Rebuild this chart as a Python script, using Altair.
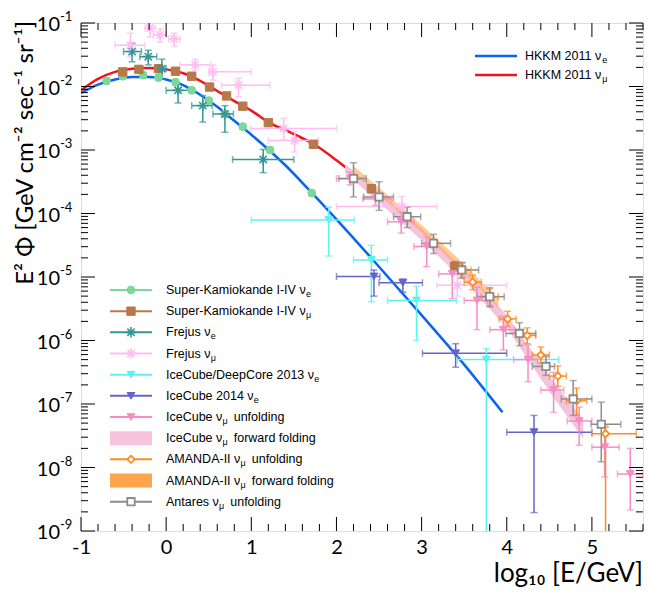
import altair as alt
import pandas as pd

# ---------------- data ----------------
# HKKM 2011 model curves (E^2 flux, GeV cm^-2 s^-1 sr^-1)
hkkm_mu_x = [-1.0, -0.8, -0.6, -0.4, -0.2, 0.0, 0.2, 0.4, 0.6, 0.8, 1.0, 1.2, 1.5, 1.75, 2.0, 2.4, 2.8, 3.2, 3.6, 4.0]
hkkm_mu_y = [8.7e-3, 1.32e-2, 1.70e-2, 1.91e-2, 1.95e-2, 1.86e-2, 1.62e-2, 1.23e-2, 8.5e-3, 5.9e-3, 4.17e-3,
             2.75e-3, 1.78e-3, 1.20e-3, 6.9e-4, 2.51e-4, 8.3e-5, 2.63e-5, 7.8e-6, 2.09e-6]
hkkm_e_x = [-1.0, -0.8, -0.6, -0.4, -0.2, 0.0, 0.2, 0.4, 0.6, 0.8, 1.0, 1.2, 1.4, 1.7, 2.0, 2.5, 3.0, 3.5, 3.95]
hkkm_e_y = [7.9e-3, 1.07e-2, 1.29e-2, 1.41e-2, 1.41e-2, 1.29e-2, 1.05e-2, 7.4e-3, 4.8e-3, 2.88e-3, 1.74e-3,
            1.02e-3, 5.75e-4, 2.19e-4, 8.1e-5, 1.45e-5, 2.51e-6, 4.17e-7, 7.4e-8]

# Super-Kamiokande I-IV nu_e
sk_e_x = [-0.70, -0.51, -0.27, -0.09, 0.11, 0.30, 0.50, 0.69, 0.90, 1.22, 1.71]
sk_e_y = [1.23e-2, 1.45e-2, 1.51e-2, 1.38e-2, 1.17e-2, 8.7e-3, 6.0e-3, 3.7e-3, 2.34e-3, 1.00e-3, 2.1e-4]
sk_e_lo = [1.10e-2, 1.30e-2, 1.36e-2, 1.24e-2, 1.05e-2, 7.8e-3, 5.4e-3, 3.3e-3, 2.10e-3, 0.90e-3, 1.88e-4]
sk_e_hi = [1.37e-2, 1.61e-2, 1.67e-2, 1.53e-2, 1.30e-2, 9.7e-3, 6.7e-3, 4.1e-3, 2.60e-3, 1.11e-3, 2.33e-4]

# Super-Kamiokande I-IV nu_mu
sk_mu_x = [-0.51, -0.32, -0.09, 0.11, 0.30, 0.51, 0.71, 0.90, 1.20, 1.73, 2.41, 3.39]
sk_mu_y = [1.70e-2, 1.86e-2, 1.91e-2, 1.74e-2, 1.45e-2, 9.8e-3, 7.1e-3, 4.9e-3, 2.7e-3, 1.23e-3, 2.45e-4, 1.48e-5]
sk_mu_lo = [1.52e-2, 1.67e-2, 1.71e-2, 1.56e-2, 1.30e-2, 8.8e-3, 6.3e-3, 4.4e-3, 2.4e-3, 1.10e-3, 2.15e-4, 1.25e-5]
sk_mu_hi = [1.89e-2, 2.07e-2, 2.12e-2, 1.94e-2, 1.61e-2, 1.09e-2, 7.9e-3, 5.5e-3, 3.0e-3, 1.37e-3, 2.80e-4, 1.75e-5]

# Frejus nu_e
fr_e_x = [-0.40, -0.21, -0.05, 0.14, 0.43, 0.69, 1.14]
fr_e_xlo = [-0.50, -0.31, -0.10, 0.00, 0.30, 0.55, 0.78]
fr_e_xhi = [-0.29, -0.11, 0.00, 0.28, 0.54, 0.79, 1.50]
fr_e_y = [3.55e-2, 2.95e-2, 1.91e-2, 8.7e-3, 5.0e-3, 3.7e-3, 7.1e-4]
fr_e_lo = [2.45e-2, 2.19e-2, 1.32e-2, 5.5e-3, 2.75e-3, 1.9e-3, 4.4e-4]
fr_e_hi = [4.79e-2, 3.72e-2, 2.69e-2, 1.12e-2, 7.2e-3, 5.0e-3, 1.02e-3]

# Frejus nu_mu
fr_mu_x = [-0.42, -0.19, -0.07, 0.094, 0.34, 0.55, 0.85, 1.38, 1.51, 2.77, 3.42]
fr_mu_xlo = [-0.60, -0.25, -0.15, 0.03, 0.16, 0.50, 0.65, 0.99, 1.20, 2.00, 3.18]
fr_mu_xhi = [-0.25, -0.13, 0.00, 0.165, 0.52, 1.00, 1.22, 2.00, 1.79, 3.18, 4.00]
fr_mu_y = [4.47e-2, 8.32e-2, 6.46e-2, 5.62e-2, 2.19e-2, 1.70e-2, 1.05e-2, 2.19e-3, 1.41e-3, 1.29e-4, 7.4e-6]
fr_mu_lo = [2.95e-2, 6.03e-2, 5.01e-2, 4.27e-2, 1.78e-2, 1.26e-2, 6.9e-3, 1.45e-3, 9.3e-4, 8.3e-5, 5.0e-6]
fr_mu_hi = [6.92e-2, 1.02e-1, 8.13e-2, 6.92e-2, 2.69e-2, 2.19e-2, 1.35e-2, 3.16e-3, 1.95e-3, 1.86e-4, 1.05e-5]

# IceCube/DeepCore 2013 nu_e (last point: lower error down to zero)
dc_x = [1.91, 2.41, 2.94, 3.76]
dc_xlo = [1.00, 2.20, 2.60, 3.42]
dc_xhi = [2.21, 2.60, 3.41, 4.61]
dc_y = [7.9e-5, 1.86e-5, 4.27e-6, 5.0e-7]
dc_lo = [2.14e-5, 4.07e-6, 1.0e-6, 1e-12]
dc_hi = [1.26e-4, 3.16e-5, 7.1e-6, 7.4e-7]

# IceCube 2014 nu_e
ic14_x = [2.44, 2.78, 3.40, 4.32]
ic14_xlo = [2.00, 2.50, 3.01, 4.00]
ic14_xhi = [2.51, 3.01, 4.00, 5.00]
ic14_y = [1.02e-5, 8.1e-6, 6.3e-7, 3.6e-8]
ic14_lo = [5.0e-6, 5.75e-6, 3.8e-7, 1.95e-9]
ic14_hi = [1.29e-5, 9.3e-6, 8.9e-7, 6.6e-8]

# IceCube nu_mu unfolding
icu_x = [2.16, 2.46, 2.76, 3.06, 3.36, 3.65, 3.96, 4.25, 4.55, 4.85, 5.15, 5.45]
icu_xlo = [2.00, 2.31, 2.60, 2.91, 3.20, 3.50, 3.80, 4.08, 4.40, 4.71, 5.00, 5.30]
icu_xhi = [2.32, 2.65, 2.91, 3.18, 3.46, 3.77, 4.09, 4.36, 4.67, 5.00, 5.32, 5.60]
icu_y = [3.55e-4, 1.70e-4, 7.4e-5, 3.02e-5, 1.12e-5, 4.27e-6, 1.48e-6, 5.0e-7, 1.66e-7, 5.4e-8, 2.09e-8, 7.9e-9]
icu_lo = [2.82e-4, 1.35e-4, 4.9e-5, 1.45e-5, 4.57e-6, 1.48e-6, 7.1e-7, 2.24e-7, 7.4e-8, 2.24e-8, 7.1e-9, 2.14e-9]
icu_hi = [4.47e-4, 2.09e-4, 1.05e-4, 4.27e-5, 1.45e-5, 6.9e-6, 2.4e-6, 8.5e-7, 3.16e-7, 8.9e-8, 4.57e-8, 2.0e-8]

# IceCube nu_mu forward folding band
icff_x = [2.1, 2.5, 3.0, 3.5, 4.0, 4.5, 4.9]
icff_lo = [4.37e-4, 1.51e-4, 3.8e-5, 8.7e-6, 1.58e-6, 1.58e-7, 2.82e-8]
icff_hi = [6.0e-4, 2.19e-4, 5.75e-5, 1.32e-5, 2.51e-6, 2.82e-7, 5.6e-8]

# AMANDA-II nu_mu unfolding (last point: lower error down to zero)
am_x = [3.48, 3.60, 3.80, 4.01, 4.24, 4.40, 4.60, 4.82, 5.16]
am_xlo = [3.38, 3.50, 3.70, 3.91, 4.14, 4.30, 4.50, 4.70, 5.00]
am_xhi = [3.58, 3.70, 3.90, 4.11, 4.34, 4.50, 4.70, 4.94, 5.52]
am_y = [1.29e-5, 8.3e-6, 4.9e-6, 2.19e-6, 1.20e-6, 5.9e-7, 2.75e-7, 1.12e-7, 3.4e-8]
am_lo = [1.0e-5, 6.3e-6, 3.55e-6, 1.66e-6, 8.9e-7, 4.4e-7, 1.9e-7, 6.6e-8, 1e-12]
am_hi = [1.66e-5, 1.07e-5, 6.5e-6, 2.88e-6, 1.58e-6, 7.9e-7, 3.98e-7, 1.78e-7, 4.3e-8]

# AMANDA-II nu_mu forward folding band
amff_x = [2.2, 2.6, 3.0, 3.4, 3.9]
amff_lo = [4.37e-4, 1.51e-4, 5.01e-5, 1.58e-5, 3.31e-6]
amff_hi = [5.62e-4, 1.95e-4, 6.61e-5, 2.14e-5, 4.57e-6]

# Antares nu_mu unfolding
an_x = [2.20, 2.50, 2.83, 3.14, 3.47, 3.80, 4.15, 4.46, 4.78, 5.11]
an_xlo = [2.03, 2.32, 2.67, 3.00, 3.36, 3.65, 3.99, 4.30, 4.64, 4.99]
an_xhi = [2.35, 2.67, 2.99, 3.34, 3.67, 3.97, 4.34, 4.56, 5.00, 5.34]
an_y = [3.55e-4, 1.82e-4, 8.9e-5, 3.39e-5, 1.29e-5, 4.9e-6, 1.29e-6, 3.9e-7, 1.20e-7, 4.8e-8]
an_lo = [1.82e-4, 1.12e-4, 6.0e-5, 2.34e-5, 9.5e-6, 3.39e-6, 8.3e-7, 2.82e-7, 6.6e-8, 1.23e-8]
an_hi = [6.3e-4, 3.16e-4, 1.26e-4, 4.7e-5, 1.70e-5, 6.8e-6, 1.91e-6, 5.6e-7, 2.34e-7, 1.07e-7]

x_tick_labels = [-1, 0, 1, 2, 3, 4, 5]
y_decades = [1e-1, 1e-2, 1e-3, 1e-4, 1e-5, 1e-6, 1e-7, 1e-8, 1e-9]
y_exponents = ["-1", "-2", "-3", "-4", "-5", "-6", "-7", "-8", "-9"]

# ---------------- styles / layout ----------------
FONT = "Lato"
LFONT = "Liberation Sans"
LSIZE, SSIZE = 12.5, 9
W, H = 562, 508
TMAJ, TMIN = 14, 7
C_SKE, C_SKM = "#7bd896", "#b8784a"
C_FRE, C_FRM = "#349696", "#ffbdf2"
C_DC, C_IC14, C_ICU = "#5cf2f2", "#6464cc", "#f78cc4"
C_ICFF, C_AM, C_AMFF, C_AN = "#f5c4dc", "#ff8c1f", "#ffa64d", "#8c8c8c"
C_BLUE, C_RED = "#0a64ee", "#f0141e"
ASTER = "M-1,0L1,0M0,-1L0,1M-0.7,-0.7L0.7,0.7M-0.7,0.7L0.7,-0.7"

xs = alt.Scale(domain=[-1, 5.6], nice=False, zero=False)
ys = alt.Scale(type="log", domain=[1e-9, 1e-1], nice=False)

# Liberation Sans (Arial-compatible) advance widths, per 1000 em, for legend text placement
ADV = {" ": 278, "-": 333, "/": 278, "A": 667, "C": 722, "D": 722, "E": 667, "F": 611, "H": 722, "I": 278,
       "K": 667, "M": 833, "N": 722, "S": 667, "V": 667, "a": 556, "b": 556, "c": 500, "d": 556, "e": 556,
       "f": 278, "g": 556, "i": 222, "j": 222, "k": 500, "l": 222, "m": 833, "n": 556, "o": 556, "p": 556,
       "r": 333, "s": 500, "t": 278, "u": 556, "w": 722, "\u03bd": 520, "\u03bc": 576}


def text_w(s, size):
    return sum(ADV.get(ch, 556) for ch in s) * size / 1000.0


def series(x, y, lo, hi, xlo, xhi, color, shape, fill, size, sw):
    xlo = xlo if xlo is not None else x
    xhi = xhi if xhi is not None else x
    return pd.DataFrame({"x": x, "y": y, "ylo": lo, "yhi": hi, "xlo": xlo, "xhi": xhi,
                         "color": color, "shape": shape, "fill": fill, "size": size, "sw": sw})


pts = pd.concat([
    series(sk_e_x, sk_e_y, sk_e_lo, sk_e_hi, None, None, C_SKE, "circle", C_SKE, 60, 1),
    series(sk_mu_x, sk_mu_y, sk_mu_lo, sk_mu_hi, None, None, C_SKM, "square", C_SKM, 70, 1),
    series(fr_e_x, fr_e_y, fr_e_lo, fr_e_hi, fr_e_xlo, fr_e_xhi, C_FRE, ASTER, "transparent", 110, 1.6),
    series(fr_mu_x, fr_mu_y, fr_mu_lo, fr_mu_hi, fr_mu_xlo, fr_mu_xhi, C_FRM, ASTER, "transparent", 110, 1.6),
    series(dc_x, dc_y, dc_lo, dc_hi, dc_xlo, dc_xhi, C_DC, "triangle-down", C_DC, 60, 1),
    series(ic14_x, ic14_y, ic14_lo, ic14_hi, ic14_xlo, ic14_xhi, C_IC14, "triangle-down", C_IC14, 60, 1),
    series(icu_x, icu_y, icu_lo, icu_hi, icu_xlo, icu_xhi, C_ICU, "triangle-down", C_ICU, 60, 1),
    series(am_x, am_y, am_lo, am_hi, am_xlo, am_xhi, C_AM, "diamond", "white", 55, 1.8),
    series(an_x, an_y, an_lo, an_hi, an_xlo, an_xhi, C_AN, "square", "white", 55, 1.8),
], ignore_index=True)

X = lambda f: alt.X(f, type="quantitative", scale=xs, axis=None)
Y = lambda f: alt.Y(f, type="quantitative", scale=ys, axis=None)
PXX = lambda f: alt.X(f, type="quantitative", scale=None, axis=None)
PXY = lambda f: alt.Y(f, type="quantitative", scale=None, axis=None)
col = alt.Color("color:N", scale=None, legend=None)

# bands
band_ic = alt.Chart(pd.DataFrame({"x": icff_x, "lo": icff_lo, "hi": icff_hi})).mark_area(
    color=C_ICFF, clip=True).encode(x=X("x"), y=Y("lo"), y2="hi")
band_am = alt.Chart(pd.DataFrame({"x": amff_x, "lo": amff_lo, "hi": amff_hi})).mark_area(
    color=C_AMFF, opacity=0.6, clip=True).encode(x=X("x"), y=Y("lo"), y2="hi")

# model curves (blue carries the x tick labels)
blue = alt.Chart(pd.DataFrame({"x": hkkm_e_x, "y": hkkm_e_y})).mark_line(
    color=C_BLUE, strokeWidth=2.5, interpolate="monotone", clip=True).encode(
    x=alt.X("x:Q", scale=xs, axis=alt.Axis(orient="bottom", values=x_tick_labels, ticks=False, domain=False,
                                           grid=False, title=None, labelFont=FONT, labelFontSize=20,
                                           labelColor="black", labelPadding=6, labelFlush=False,
                                           labelExpr="datum.value < 0 ? '-' + abs(datum.value) : '' + datum.value")),
    y=alt.Y("y:Q", scale=ys, axis=None))
red = alt.Chart(pd.DataFrame({"x": hkkm_mu_x, "y": hkkm_mu_y})).mark_line(
    color=C_RED, strokeWidth=2.5, interpolate="monotone", clip=True).encode(x=X("x"), y=Y("y"))

base = alt.Chart(pts)
xerr = base.mark_rule(strokeWidth=1.5, clip=True).encode(x=X("xlo"), x2="xhi", y=Y("y"), color=col)
yerr = base.mark_rule(strokeWidth=1.5, clip=True).encode(x=X("x"), y=Y("ylo"), y2="yhi", color=col)
xcap = base.transform_filter("datum.xhi > datum.xlo").transform_fold(["xlo", "xhi"], as_=["k", "xc"]).mark_tick(
    orient="vertical", size=7, thickness=1.5, clip=True).encode(x=X("xc"), y=Y("y"), color=col)
ycap = base.transform_filter("datum.yhi > datum.ylo").transform_fold(["ylo", "yhi"], as_=["k", "yc"]).mark_tick(
    orient="horizontal", size=7, thickness=1.5, clip=True).encode(x=X("x"), y=Y("yc"), color=col)
points = base.mark_point(opacity=1, clip=True).encode(
    x=X("x"), y=Y("y"),
    shape=alt.Shape("shape:N", scale=None, legend=None),
    fill=alt.Fill("fill:N", scale=None, legend=None),
    stroke=alt.Stroke("color:N", scale=None, legend=None),
    size=alt.Size("size:Q", scale=None, legend=None),
    strokeWidth=alt.StrokeWidth("sw:Q", scale=None, legend=None))

# inward frame ticks (major + minor) on all four sides
ytv = [k * 10.0 ** n for n in range(-9, -1) for k in range(1, 10)] + [0.1]
ytl = [TMAJ if k == 1 else TMIN for n in range(-9, -1) for k in range(1, 10)] + [TMAJ]
ytk = pd.DataFrame({"v": ytv, "len": ytl})
ytk["rx"] = W - ytk["len"]
xtv = [round(-1 + 0.2 * i, 1) for i in range(34)]
xtk = pd.DataFrame({"v": xtv, "len": [TMAJ if i % 5 == 0 else TMIN for i in range(34)]})
xtk["by"] = H - xtk["len"]
tk_left = alt.Chart(ytk).mark_rule(color="black", strokeWidth=1).encode(
    x=PXX("len"), x2=alt.value(0), y=Y("v"))
tk_right = alt.Chart(ytk).mark_rule(color="black", strokeWidth=1).encode(
    x=PXX("rx"), x2=alt.value(W), y=Y("v"))
tk_bot = alt.Chart(xtk).mark_rule(color="black", strokeWidth=1).encode(
    x=X("v"), y=PXY("by"), y2=alt.value(H))
tk_top = alt.Chart(xtk).mark_rule(color="black", strokeWidth=1).encode(
    x=X("v"), y=PXY("len"), y2=alt.value(0))

# y tick labels 10^n
ydf = pd.DataFrame({"v": y_decades, "e": y_exponents, "b": "10"})
ylab10 = alt.Chart(ydf).mark_text(align="right", baseline="middle", font=FONT, fontSize=20, dy=2,
                                  color="black").encode(x=alt.value(-21), y=Y("v"), text="b:N")
ylabexp = alt.Chart(ydf).mark_text(align="left", baseline="middle", font=FONT, fontSize=13, dy=-6,
                                   color="black").encode(x=alt.value(-21), y=Y("v"), text="e:N")

# axis titles
ytitle = alt.Chart(pd.DataFrame({"t": ["E\u00b2 \u03a6 [GeV cm\u207b\u00b2 sec\u207b\u00b9 sr\u207b\u00b9]"]})).mark_text(
    angle=270, align="right", baseline="middle", font=FONT, fontSize=24, color="black").encode(
    x=alt.value(-55), y=alt.value(-2), text="t:N")
xtitle = alt.Chart(pd.DataFrame({"t": ["log\u2081\u2080 [E/GeV]"]})).mark_text(
    align="right", baseline="alphabetic", font=FONT, fontSize=26, color="black").encode(
    x=alt.value(W), y=alt.value(559), text="t:N")

# ---------------- legend (left) ----------------
leg_prefix = ["Super-Kamiokande I-IV \u03bd", "Super-Kamiokande I-IV \u03bd", "Frejus \u03bd", "Frejus \u03bd",
              "IceCube/DeepCore 2013 \u03bd", "IceCube 2014 \u03bd", "IceCube \u03bd", "IceCube \u03bd",
              "AMANDA-II \u03bd", "AMANDA-II \u03bd", "Antares \u03bd"]
leg_sub = ["e", "\u03bc", "e", "\u03bc", "e", "e", "\u03bc", "\u03bc", "\u03bc", "\u03bc", "\u03bc"]
leg_suffix = ["", "", "", "", "", "", "unfolding", "forward folding", "unfolding", "forward folding", "unfolding"]
leg_color = [C_SKE, C_SKM, C_FRE, C_FRM, C_DC, C_IC14, C_ICU, C_ICFF, C_AM, C_AMFF, C_AN]
leg_shape = ["circle", "square", ASTER, ASTER, "triangle-down", "triangle-down", "triangle-down", "",
             "diamond", "", "square"]
leg_fill = [C_SKE, C_SKM, "transparent", "transparent", C_DC, C_IC14, C_ICU, "", "white", "", "white"]
leg_size = [60, 70, 110, 110, 60, 60, 60, 0, 55, 0, 55]
leg_sw = [1, 1, 1.6, 1.6, 1, 1, 1, 0, 1.8, 0, 1.8]

LX_TEXT = 85
leg = pd.DataFrame({"pre": leg_prefix, "sub": leg_sub, "suf": leg_suffix, "color": leg_color,
                    "shape": leg_shape, "fill": leg_fill, "size": leg_size, "sw": leg_sw})
leg["py"] = [267 + 21.17 * i for i in range(len(leg))]
leg["subx"] = [LX_TEXT + text_w(p, LSIZE) for p in leg_prefix]
leg["sufx"] = [sx + text_w(s, SSIZE) + 6 for sx, s in zip(leg["subx"], leg_sub)]
leg["py1"] = leg["py"] - 7
leg["py2"] = leg["py"] + 7
PY = PXY("py")
lb = alt.Chart(leg)
leg_lines = lb.transform_filter("datum.shape != ''").mark_rule(strokeWidth=2).encode(
    x=alt.value(29), x2=alt.value(71), y=PY, color=col)
leg_bands = lb.transform_filter("datum.shape == ''").mark_rect().encode(
    x=alt.value(29), x2=alt.value(71), y=PXY("py1"), y2="py2:Q", color=col)
leg_marks = lb.transform_filter("datum.shape != ''").mark_point(opacity=1).encode(
    x=alt.value(50), y=PY,
    shape=alt.Shape("shape:N", scale=None, legend=None),
    fill=alt.Fill("fill:N", scale=None, legend=None),
    stroke=alt.Stroke("color:N", scale=None, legend=None),
    size=alt.Size("size:Q", scale=None, legend=None),
    strokeWidth=alt.StrokeWidth("sw:Q", scale=None, legend=None))
leg_text = lb.mark_text(align="left", baseline="middle", font=LFONT, fontSize=LSIZE, color="black").encode(
    x=alt.value(LX_TEXT), y=PY, text="pre:N")
leg_subt = lb.mark_text(align="left", baseline="middle", font=LFONT, fontSize=SSIZE, dy=4, color="black").encode(
    x=PXX("subx"), y=PY, text="sub:N")
leg_suft = lb.transform_filter("datum.suf != ''").mark_text(
    align="left", baseline="middle", font=LFONT, fontSize=LSIZE, color="black").encode(
    x=PXX("sufx"), y=PY, text="suf:N")

# ---------------- legend (top right, model curves) ----------------
HX_TEXT = 444
hk = pd.DataFrame({"pre": ["HKKM 2011 \u03bd", "HKKM 2011 \u03bd"], "sub": ["e", "\u03bc"],
                   "color": [C_BLUE, C_RED], "py": [33, 52]})
hk["subx"] = [HX_TEXT + text_w(p, LSIZE) for p in hk["pre"]]
hb = alt.Chart(hk)
hk_lines = hb.mark_rule(strokeWidth=2.5).encode(x=alt.value(394), x2=alt.value(436), y=PY, color=col)
hk_text = hb.mark_text(align="left", baseline="middle", font=LFONT, fontSize=LSIZE, color="black").encode(
    x=alt.value(HX_TEXT), y=PY, text="pre:N")
hk_sub = hb.mark_text(align="left", baseline="middle", font=LFONT, fontSize=SSIZE, dy=4, color="black").encode(
    x=PXX("subx"), y=PY, text="sub:N")

chart = alt.layer(
    blue, red, band_ic, band_am, xerr, yerr, xcap, ycap, points,
    tk_left, tk_right, tk_bot, tk_top,
    ylab10, ylabexp, ytitle, xtitle,
    leg_lines, leg_bands, leg_marks, leg_text, leg_subt, leg_suft,
    hk_lines, hk_text, hk_sub,
).resolve_axis(x="independent", y="independent").properties(
    width=W, height=H,
    autosize=alt.AutoSizeParams(type="none"),
    padding={"left": 73, "top": 15, "right": 3, "bottom": 69},
).configure_view(stroke="black", strokeWidth=1.5).configure(background="white")

chart.save("out.html", embed_options={"renderer": "svg", "actions": False})
